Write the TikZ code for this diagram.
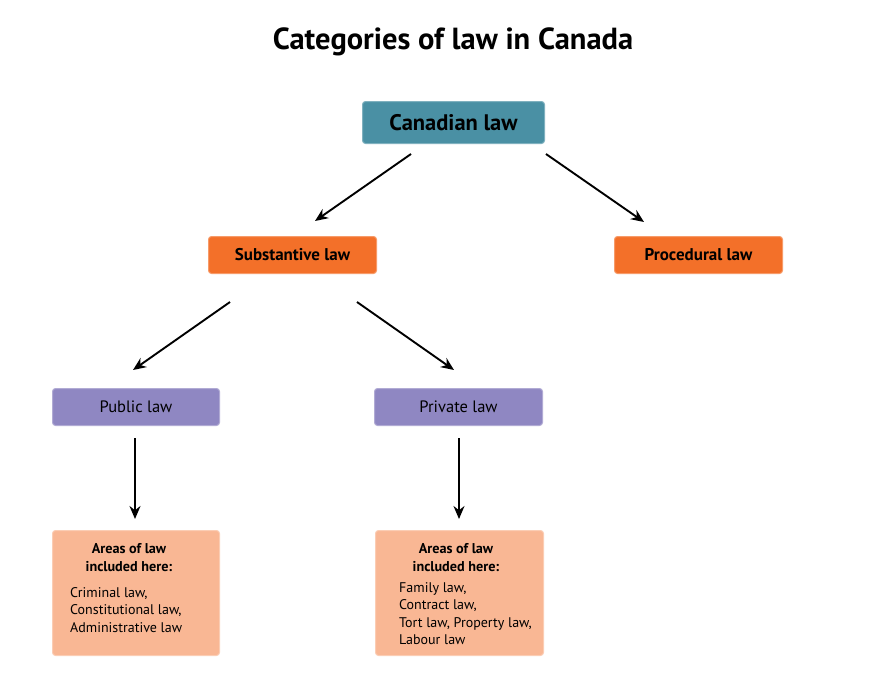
\documentclass[tikz,border=0pt]{standalone}
\usepackage{fontspec}
\setmainfont{PT Sans}
\usetikzlibrary{arrows.meta}
\definecolor{teal1}{HTML}{4A90A4}
\definecolor{orange1}{HTML}{F37029}
\definecolor{purple1}{HTML}{8F87C2}
\definecolor{peach1}{HTML}{F9B794}
\tikzset{
  box/.style={draw=#1!70!white, line width=1pt, fill=#1, rounded corners=3pt, inner sep=0pt, anchor=north west},
  arr/.style={-{Stealth[length=13pt,width=11pt]}, line width=1.9pt, black},
  head/.style={align=center, anchor=north, font=\fontsize{14.2}{18}\selectfont\bfseries},
  list/.style={align=left, anchor=north west, inner sep=0pt, font=\fontsize{14}{17.6}\selectfont},
}
\begin{document}
\begin{tikzpicture}[x=1pt,y=-1pt]
\useasboundingbox (0,0) rectangle (885,691);
\node[font=\fontsize{30.5}{34}\selectfont\bfseries] (title) at (453,42) {Categories of law in Canada};
% boxes
\node[box=teal1, minimum width=182pt, minimum height=42pt] (can) at (362,101) {};
\node[font=\fontsize{22.5}{26}\selectfont\bfseries] at (can.center) {Canadian law};
\node[box=orange1, minimum width=168pt, minimum height=37pt] (sub) at (208,236) {};
\node[font=\fontsize{17}{20}\selectfont\bfseries] at (sub.center) {Substantive law};
\node[box=orange1, minimum width=168pt, minimum height=37pt] (proc) at (614,236) {};
\node[font=\fontsize{17}{20}\selectfont\bfseries] at (proc.center) {Procedural law};
\node[box=purple1, minimum width=167pt, minimum height=37pt] (pub) at (52,388) {};
\node[font=\fontsize{16.5}{20}\selectfont] at (pub.center) {Public law};
\node[box=purple1, minimum width=168pt, minimum height=37pt] (priv) at (374,388) {};
\node[font=\fontsize{16.5}{20}\selectfont] at (priv.center) {Private law};
\node[box=peach1, minimum width=167pt, minimum height=125pt] (areaA) at (52,530) {};
\node[box=peach1, minimum width=168pt, minimum height=125pt] (areaB) at (375,530) {};
% texts in area boxes
\node[head] (hA) at (129,539.5) {Areas of law\\ included here:};
\node[list] (lA) at (70,587) {Criminal law,\\ Constitutional law,\\ Administrative law};
\node[head] (hB) at (456,539.5) {Areas of law\\ included here:};
\node[list] (lB) at (399,582) {Family law,\\ Contract law,\\ Tort law, Property law,\\ Labour law};
% arrow end points
\coordinate (a1s) at (411,154); \coordinate (a1e) at (315,221);
\coordinate (a2s) at (546,154); \coordinate (a2e) at (644,222);
\coordinate (a3s) at (230,302); \coordinate (a3e) at (133,370);
\coordinate (a4s) at (357,302); \coordinate (a4e) at (454,370);
\coordinate (a5s) at (135,438); \coordinate (a5e) at (135,519);
\coordinate (a6s) at (459,438); \coordinate (a6e) at (459,519);
\draw[arr] (a1s) -- (a1e);
\draw[arr] (a2s) -- (a2e);
\draw[arr] (a3s) -- (a3e);
\draw[arr] (a4s) -- (a4e);
\draw[arr] (a5s) -- (a5e);
\draw[arr] (a6s) -- (a6e);
\end{tikzpicture}
\end{document}
